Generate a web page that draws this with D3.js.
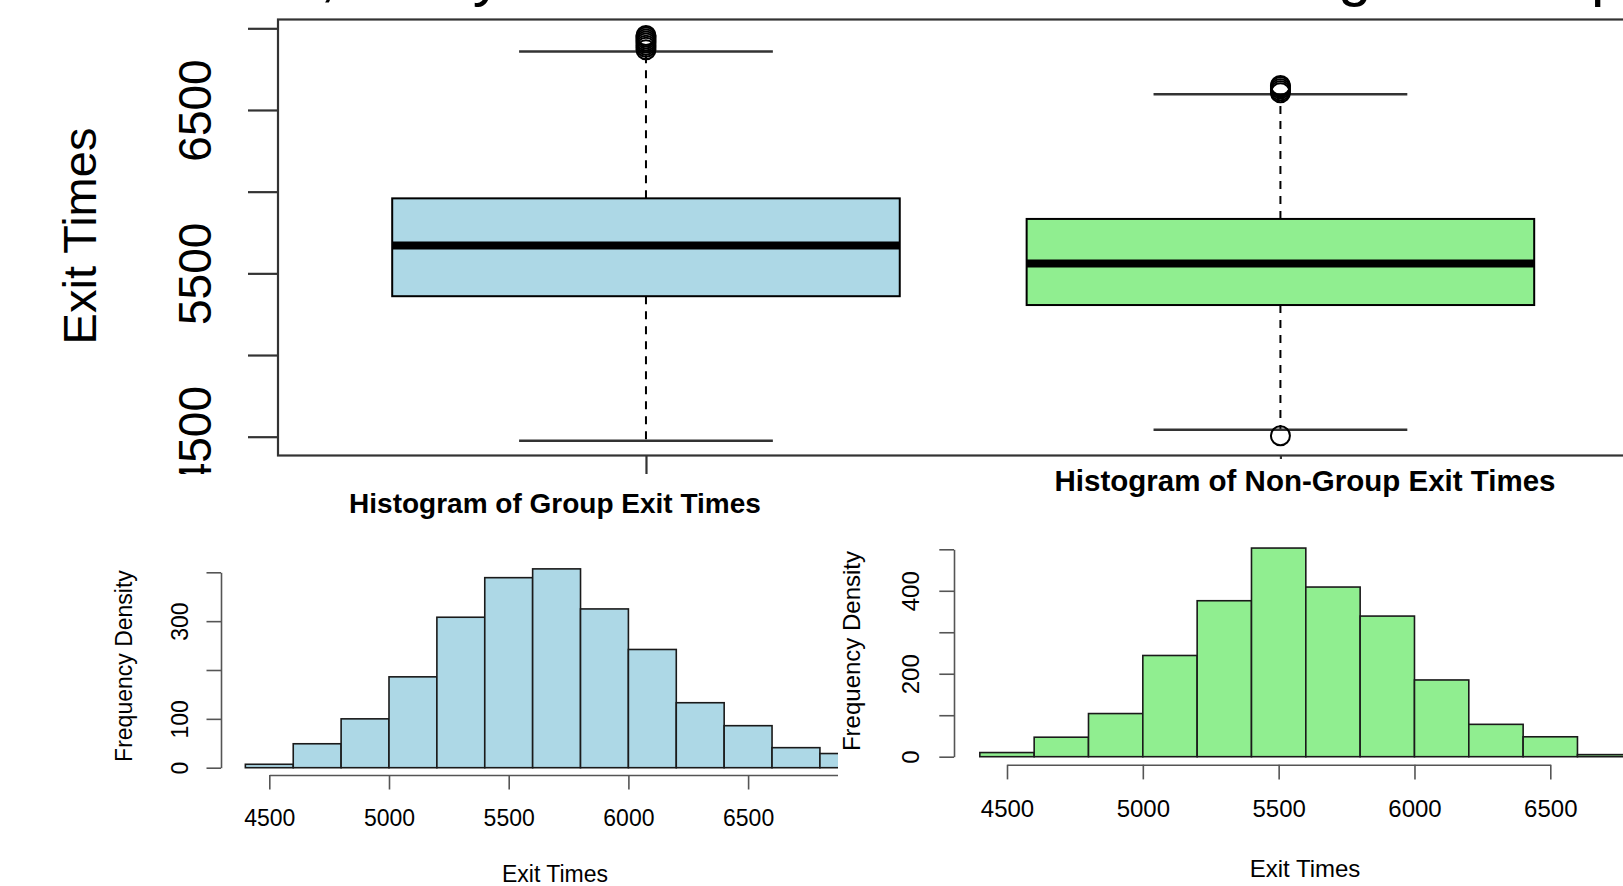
<html>

    <head>
        <script src="https://d3js.org/d3.v7.min.js"></script>

        <style>
            body {
                margin: 0;
                background: white;
            }

            text {
                font-family: "Liberation Sans", Arial, sans-serif;
                fill: black;
            }

            .frame {
                fill: none;
                stroke: #333;
                stroke-width: 2.2px;
            }

            .box-axis {
                color: #333;
                stroke-width: 2.2px;
            }

            .hist-axis {
                color: #555;
                stroke-width: 1.6px;
            }

            .bar {
                stroke: #1a1a1a;
                stroke-width: 1.6px;
            }

            .whisker {
                stroke: black;
                stroke-width: 2px;
                stroke-dasharray: 8, 7;
            }

            .cap {
                stroke: #333;
                stroke-width: 2.4px;
            }

            .outlier {
                fill: none;
                stroke: black;
                stroke-width: 2px;
            }
        </style>
    </head>

    <body>
        <svg id="chart" width="1623" height="886"></svg>
        <script>
            // ---- data ----
            const groups = ["Group", "Non-Group"];
            const lowerWhisker = [4475, 4543];
            const firstQuartile = [5360, 5306];
            const medians = [5670, 5561];
            const thirdQuartile = [5959, 5833];
            const upperWhisker = [6858, 6596];
            const groupOutliers = [6868, 6884, 6897, 6910, 6922, 6935, 6947, 6956];
            const nonGroupOutliers = [4506, 6605, 6617, 6630, 6642, 6650];
            const boxYTicks = [4500, 5000, 5500, 6000, 6500, 7000];
            const boxYLabels = [4500, 5500, 6500];

            const groupBreaks = [4400, 4600, 4800, 5000, 5200, 5400, 5600, 5800, 6000, 6200, 6400, 6600, 6800, 7000];
            const groupDensity = [7, 49, 100, 186, 308, 389, 407, 325, 242, 133, 86, 41, 29];
            const nonGroupBreaks = [4400, 4600, 4800, 5000, 5200, 5400, 5600, 5800, 6000, 6200, 6400, 6600, 6800];
            const nonGroupDensity = [10, 47, 104, 244, 376, 503, 409, 339, 185, 78, 48, 5];

            const groupXTicks = [4500, 5000, 5500, 6000, 6500, 7000];
            const nonGroupXTicks = [4500, 5000, 5500, 6000, 6500];
            const groupYTicks = [0, 100, 200, 300, 400];
            const groupYLabels = [0, 100, 300];
            const nonGroupYTicks = [0, 100, 200, 300, 400, 500];
            const nonGroupYLabels = [0, 200, 400];

            const boxColors = ["#add8e6", "#90ee90"];

            const svg = d3.select("svg#chart");
            const plain = d3.format("d");

            // rotate y tick labels so they read bottom to top, baseline at offset left of axis
            function rotateLabels(g, offset, size) {
                g.attr("font-family", null).attr("font-size", null);
                g.selectAll(".tick text")
                    .attr("x", 0)
                    .attr("y", 0)
                    .attr("dy", null)
                    .attr("text-anchor", "middle")
                    .style("font-size", size + "px")
                    .attr("transform", "translate(" + (-offset) + ",0) rotate(-90)");
            }

            // ================= A. boxplot (top, partly cut off) =================
            const box = svg.append("g");
            const bx = d3.scaleLinear().domain([0.42, 2.58]).range([278, 1648.4]);
            const by = d3.scaleLinear().domain([4500, 7000]).range([436.7, 28.3]);

            // title: only the descenders show at the top edge
            box.append("text")
                .attr("x", 40)
                .attr("y", -5)
                .style("font-size", "60px")
                .style("word-spacing", "3px")
                .text("Exit Times, Analysis of Exit Times when Traveling in Group");

            box.append("rect")
                .attr("class", "frame")
                .attr("x", bx(0.42))
                .attr("y", 19.5)
                .attr("width", 1500)
                .attr("height", 436);

            box.append("g")
                .attr("class", "box-axis")
                .attr("transform", "translate(" + bx(0.42) + ",0)")
                .call(d3.axisLeft(by).tickValues(boxYTicks).tickSize(30).tickSizeOuter(0)
                    .tickFormat(d => boxYLabels.includes(d) ? plain(d) : ""))
                .call(g => g.select(".domain").remove())
                .call(g => rotateLabels(g, 67, 46));

            box.append("g")
                .attr("class", "box-axis")
                .attr("transform", "translate(0,455.5)")
                .call(d3.axisBottom(bx).tickValues([1, 2]).tickSize(30).tickFormat(""))
                .call(g => g.select(".domain").remove());

            box.append("text")
                .attr("transform", "translate(96," + 236 + ") rotate(-90)")
                .attr("text-anchor", "middle")
                .style("font-size", "47px")
                .text("Exit Times");

            const boxStats = groups.map((name, i) => ({
                pos: i + 1,
                lw: lowerWhisker[i], q1: firstQuartile[i], med: medians[i],
                q3: thirdQuartile[i], uw: upperWhisker[i], color: boxColors[i],
                out: i === 0 ? groupOutliers : nonGroupOutliers
            }));

            const item = box.selectAll("g.item").data(boxStats).join("g").attr("class", "item");

            item.append("line").attr("class", "whisker")
                .attr("x1", d => bx(d.pos)).attr("x2", d => bx(d.pos))
                .attr("y1", d => by(d.q3)).attr("y2", d => by(d.uw));
            item.append("line").attr("class", "whisker")
                .attr("x1", d => bx(d.pos)).attr("x2", d => bx(d.pos))
                .attr("y1", d => by(d.q1)).attr("y2", d => by(d.lw));

            item.append("line").attr("class", "cap")
                .attr("x1", d => bx(d.pos - 0.2)).attr("x2", d => bx(d.pos + 0.2))
                .attr("y1", d => by(d.uw)).attr("y2", d => by(d.uw));
            item.append("line").attr("class", "cap")
                .attr("x1", d => bx(d.pos - 0.2)).attr("x2", d => bx(d.pos + 0.2))
                .attr("y1", d => by(d.lw)).attr("y2", d => by(d.lw));

            item.append("rect")
                .attr("x", d => bx(d.pos - 0.4))
                .attr("width", d => bx(d.pos + 0.4) - bx(d.pos - 0.4))
                .attr("y", d => by(d.q3))
                .attr("height", d => by(d.q1) - by(d.q3))
                .attr("fill", d => d.color)
                .attr("stroke", "black")
                .attr("stroke-width", 2);

            item.append("line")
                .attr("x1", d => bx(d.pos - 0.4)).attr("x2", d => bx(d.pos + 0.4))
                .attr("y1", d => by(d.med)).attr("y2", d => by(d.med))
                .attr("stroke", "black")
                .attr("stroke-width", 8);

            item.selectAll("circle").data(d => d.out.map(v => ({ pos: d.pos, v: v })))
                .join("circle")
                .attr("class", "outlier")
                .attr("cx", d => bx(d.pos))
                .attr("cy", d => by(d.v))
                .attr("r", 9.5);

            // ================= B. histograms (pasted over the bottom) =================
            function histogram(opts) {
                const g = svg.append("g");
                g.append("rect")
                    .attr("x", opts.region[0]).attr("y", opts.region[1])
                    .attr("width", opts.region[2]).attr("height", opts.region[3])
                    .attr("fill", "white");

                const x = d3.scaleLinear().domain(opts.xDomain).range(opts.xRange);
                const y = d3.scaleLinear().domain(opts.yDomain).range(opts.yRange);

                const bars = opts.values.map((v, i) => ({ x0: opts.breaks[i], x1: opts.breaks[i + 1], v: v }));
                g.selectAll("rect.bar").data(bars)
                    .join("rect")
                    .attr("class", "bar")
                    .attr("fill", opts.color)
                    .attr("x", d => x(d.x0))
                    .attr("width", d => x(d.x1) - x(d.x0))
                    .attr("y", d => y(d.v))
                    .attr("height", d => y(0) - y(d.v));

                g.append("g")
                    .attr("class", "hist-axis")
                    .attr("transform", "translate(0," + opts.xAxisY + ")")
                    .call(d3.axisBottom(x).tickValues(opts.xTicks).tickSize(opts.tick).tickSizeOuter(0)
                        .tickFormat(plain))
                    .call(a => {
                        a.attr("font-family", null).attr("font-size", null);
                        a.selectAll(".tick text")
                            .attr("y", opts.xLabelOffset)
                            .attr("dy", null)
                            .style("font-size", opts.font + "px");
                    });

                g.append("g")
                    .attr("class", "hist-axis")
                    .attr("transform", "translate(" + opts.yAxisX + ",0)")
                    .call(d3.axisLeft(y).tickValues(opts.yTicks).tickSize(opts.tick).tickSizeOuter(0)
                        .tickFormat(d => opts.yLabels.includes(d) ? plain(d) : ""))
                    .call(a => rotateLabels(a, opts.yLabelOffset, opts.font));

                g.append("text")
                    .attr("x", opts.titleX)
                    .attr("y", opts.titleY)
                    .attr("text-anchor", "middle")
                    .style("font-size", opts.titleSize + "px")
                    .style("font-weight", "bold")
                    .text(opts.title);

                g.append("text")
                    .attr("x", opts.titleX)
                    .attr("y", opts.xTitleY)
                    .attr("text-anchor", "middle")
                    .style("font-size", opts.font + "px")
                    .text("Exit Times");

                g.append("text")
                    .attr("transform", "translate(" + opts.yTitle[0] + "," + opts.yTitle[1] + ") rotate(-90)")
                    .attr("text-anchor", "middle")
                    .style("font-size", opts.font + "px")
                    .text("Frequency Density");
            }

            histogram({
                region: [0, 474, 838, 412],
                breaks: groupBreaks, values: groupDensity, color: boxColors[0],
                xDomain: [4500, 7000], xRange: [269.3, 867.8],
                yDomain: [0, 400], yRange: [767.7, 572.3],
                xTicks: groupXTicks, yTicks: groupYTicks, yLabels: groupYLabels,
                xAxisY: 775, yAxisX: 221, tick: 14.5,
                xLabelOffset: 51, yLabelOffset: 33, font: 23,
                title: "Histogram of Group Exit Times", titleX: 555, titleY: 513, titleSize: 28,
                xTitleY: 882, yTitle: [131.5, 666]
            });

            histogram({
                region: [838, 459, 785, 427],
                breaks: nonGroupBreaks, values: nonGroupDensity, color: boxColors[1],
                xDomain: [4500, 6500], xRange: [1007, 1550.3],
                yDomain: [0, 500], yRange: [756.7, 549.3],
                xTicks: nonGroupXTicks, yTicks: nonGroupYTicks, yLabels: nonGroupYLabels,
                xAxisY: 764.7, yAxisX: 954, tick: 14.7,
                xLabelOffset: 52, yLabelOffset: 35, font: 24,
                title: "Histogram of Non-Group Exit Times", titleX: 1305, titleY: 491, titleSize: 29.5,
                xTitleY: 877, yTitle: [860, 651]
            });
        </script>
    </body>

</html>
